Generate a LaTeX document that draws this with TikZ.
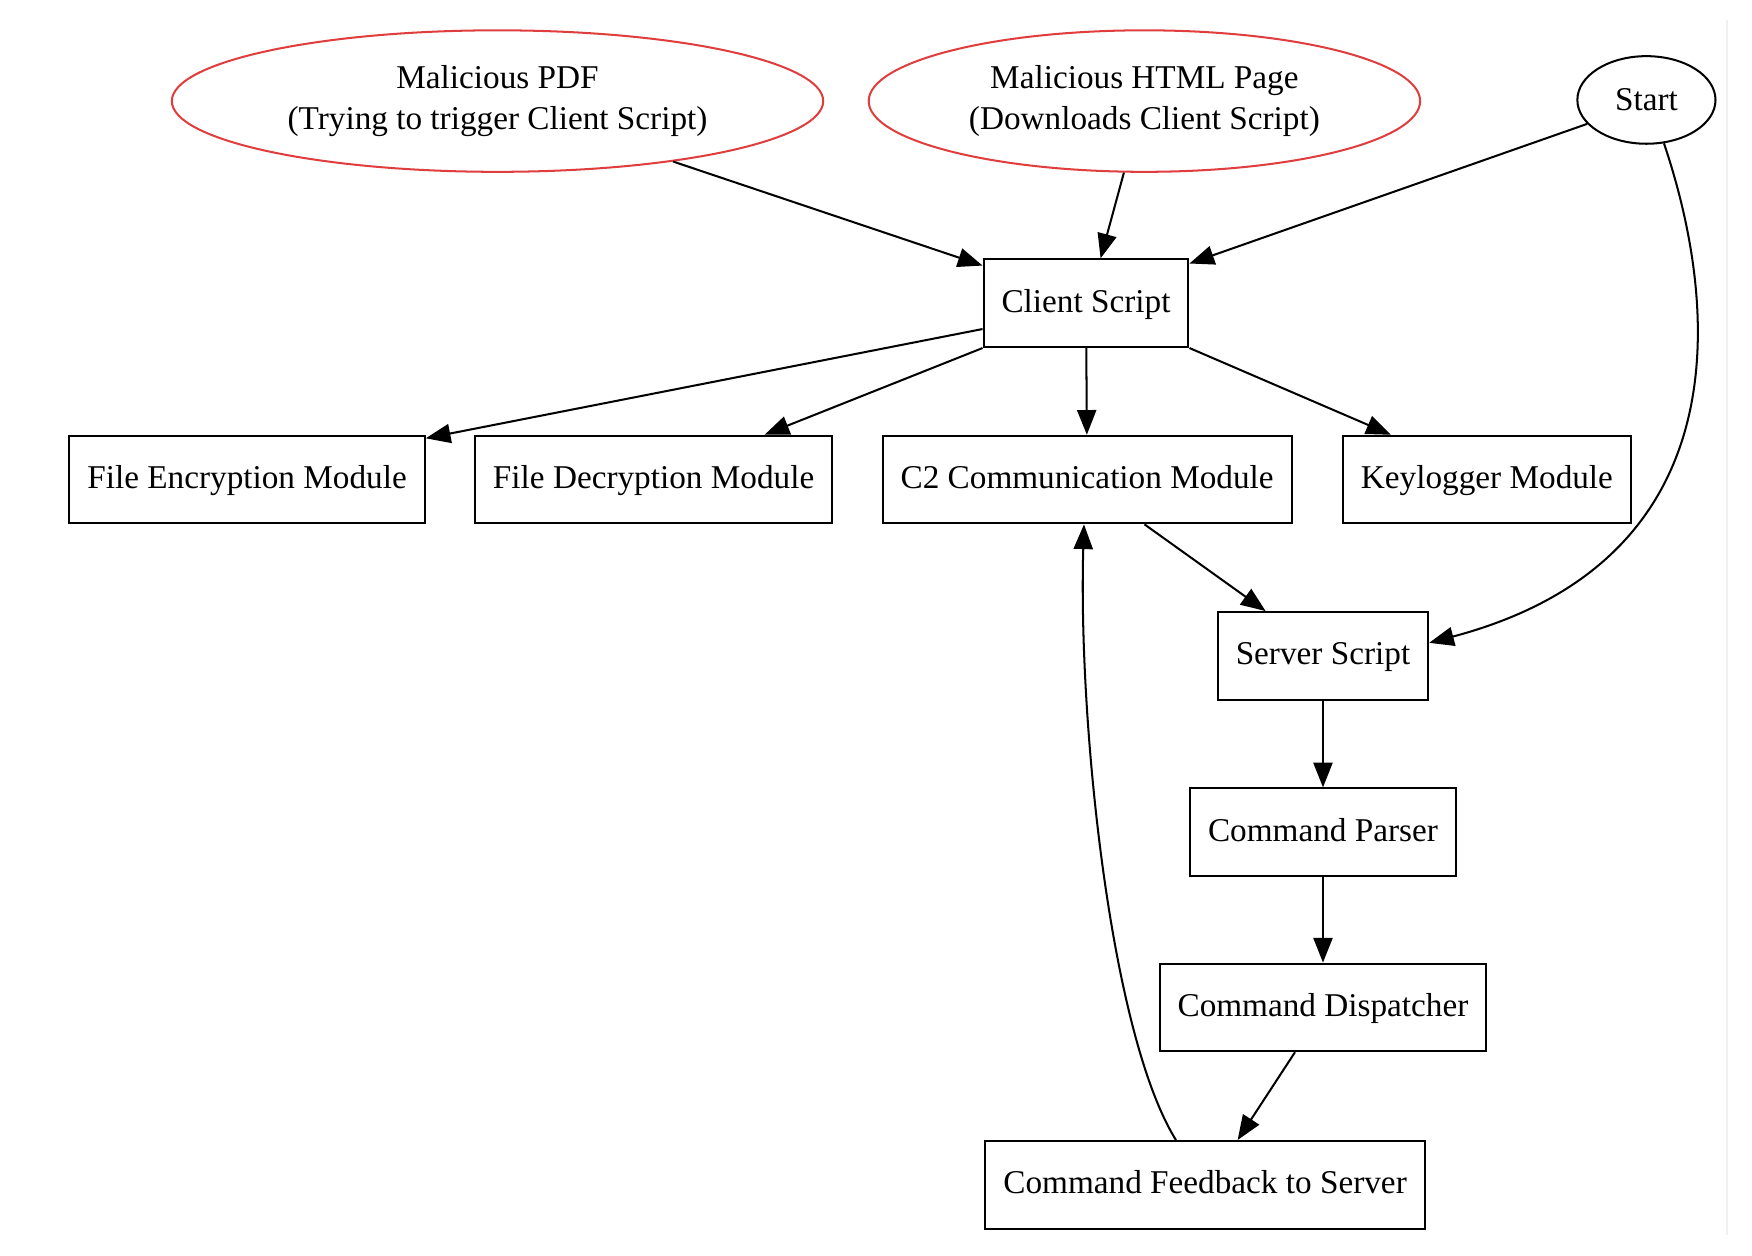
\documentclass[tikz,border=0pt]{standalone}
\usepackage{fontspec}
\setmainfont{Liberation Serif}
\usepackage{xcolor}
\usetikzlibrary{shapes.geometric,arrows.meta}

\definecolor{attackred}{RGB}{224,62,62}

\begin{document}
\begin{tikzpicture}[x=0.5pt, y=-0.5pt,
    box/.style={rectangle, draw=black, line width=0.9pt, minimum height=39pt, inner xsep=8pt, text height=0.9em, text depth=0.1em, font=\fontsize{14.8}{18}\selectfont},
    source/.style={ellipse, draw=attackred, line width=0.9pt, inner sep=0pt, align=center, font=\fontsize{14.8}{18.5}\selectfont},
    startnode/.style={ellipse, draw=black, line width=0.9pt, inner sep=0pt, minimum width=61.5pt, minimum height=39pt, font=\fontsize{14.8}{18}\selectfont},
    arrow/.style={-{Triangle[length=11pt,width=8.5pt]}, line width=0.9pt}
]
\useasboundingbox (0,0) rectangle (1560,1118);
\draw[gray!12, line width=0.8pt] (1538,18) -- (1538,1100);

% sources
\node[source, minimum width=290pt, minimum height=63pt] (pdf) at (443,90) {Malicious PDF\\(Trying to trigger Client Script)};
\node[source, minimum width=245.5pt, minimum height=63pt] (html) at (1019,90) {Malicious HTML Page\\(Downloads Client Script)};
\node[startnode] (start) at (1466,89) {Start};

\node[box] (client) at (967,270) {Client Script};

% modules
\node[box] (encrypt) at (220,427) {File Encryption Module};
\node[box] (decrypt) at (582,427) {File Decryption Module};
\node[box] (c2) at (968,427) {C2 Communication Module};
\node[box] (keylog) at (1324,427) {Keylogger Module};

% server side
\node[box] (server) at (1178,584) {Server Script};
\node[box] (parser) at (1178,741) {Command Parser};
\node[box] (dispatch) at (1178,897) {Command Dispatcher};
\node[box] (feedback) at (1073,1055) {Command Feedback to Server};

\draw[arrow] (pdf.-19) -- (client.160);
\draw[arrow] (html.-106) -- (client.72);
\draw[arrow] (start.-158) -- (client.21);
\draw[arrow] (start.-68) .. controls (1533,280) and (1546,500) .. (server.7);

\draw[arrow] (client.-166) -- (encrypt.13);
\draw[arrow] (client.south west) -- (decrypt.22);
\draw[arrow] (client) -- (c2);
\draw[arrow] (client.south east) -- (keylog.155);

\draw[arrow] (c2.-38) -- (server.142);
\draw[arrow] (server) -- (parser);
\draw[arrow] (parser) -- (dispatch);
\draw[arrow] (dispatch.-122) -- (feedback.54);
\draw[arrow] (feedback.123) .. controls (988,920) and (960,640) .. (c2.-94);
\end{tikzpicture}
\end{document}
